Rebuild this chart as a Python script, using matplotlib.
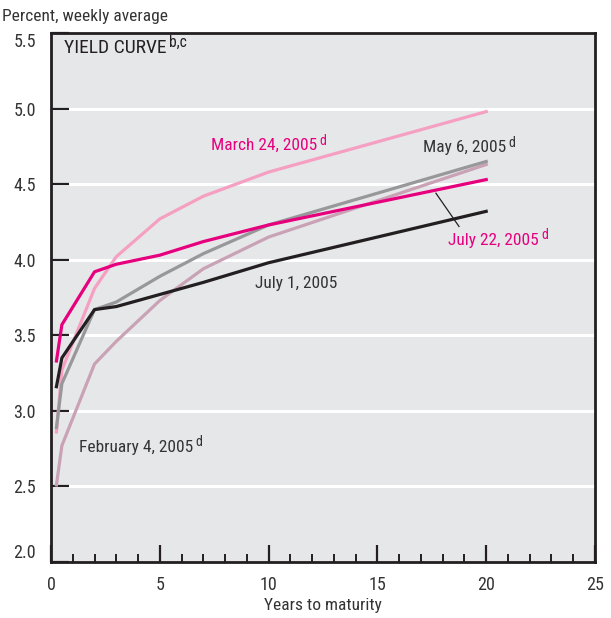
import matplotlib
matplotlib.use('Agg')
import matplotlib.pyplot as plt
from matplotlib.ticker import MultipleLocator

plt.rcParams['font.family'] = ['Roboto Condensed', 'DejaVu Sans']

# years to maturity (3-month, 6-month, 2, 3, 5, 7, 10, 20 years)
maturity = [0.25, 0.5, 2, 3, 5, 7, 10, 20]

feb4 = [2.51, 2.77, 3.31, 3.46, 3.73, 3.94, 4.15, 4.63]
mar24 = [2.86, 3.27, 3.81, 4.02, 4.27, 4.42, 4.58, 4.98]
may6 = [2.89, 3.18, 3.67, 3.72, 3.89, 4.04, 4.23, 4.65]
jul1 = [3.16, 3.35, 3.67, 3.69, 3.77, 3.85, 3.98, 4.32]
jul22 = [3.33, 3.57, 3.92, 3.97, 4.03, 4.12, 4.23, 4.53]

yticks = [2.0, 2.5, 3.0, 3.5, 4.0, 4.5, 5.0, 5.5]

bg = '#e6e7e8'
magenta = '#e6007e'
pink = '#f5a0c2'
gray = '#98989a'
mauve = '#c9a2b6'
black = '#231f20'
txt = '#333333'

fig = plt.figure(figsize=(6.11, 6.18), dpi=100)
ax = fig.add_axes([51/611, 1-562/618, 544/611, 529/618])
ax.set_facecolor(bg)

ax.set_xlim(0, 25)
ax.set_ylim(2.0, 5.5)

for y in yticks[1:-1]:
    ax.axhline(y, color='white', lw=2.2, zorder=1)

ax.plot(maturity, feb4, color=mauve, lw=2.3, zorder=3)
ax.plot(maturity, mar24, color=pink, lw=2.3, zorder=3)
ax.plot(maturity, may6, color=gray, lw=2.3, zorder=4)
ax.plot(maturity, jul22, color=magenta, lw=2.3, zorder=5)
ax.plot(maturity, jul1, color=black, lw=2.3, zorder=6)

for s in ax.spines.values():
    s.set_linewidth(2.0)
    s.set_color(black)

ax.xaxis.set_major_locator(MultipleLocator(5))
ax.xaxis.set_minor_locator(MultipleLocator(1))
ax.tick_params(axis='x', which='major', direction='in', length=12, width=1.6,
               colors=black, labelcolor=txt, labelsize=13, pad=10)
ax.tick_params(axis='x', which='minor', direction='in', length=6, width=1.4, colors=black)
ax.tick_params(axis='y', which='major', direction='in', length=13, width=1.6,
               colors=black, labelcolor=txt, labelsize=13, pad=11)
ax.set_yticks(yticks)
ax.set_yticklabels([f'{v:.1f}' for v in yticks])
ylabels = ax.get_yticklabels()
ylabels[0].set_va('bottom')
ylabels[-1].set_va('top')

ax.set_xlabel('Years to maturity', fontsize=12.5, color=txt, labelpad=3)
fig.text(2/611, 1-17/618, 'Percent, weekly average', fontsize=12.5, color=txt, va='center')


def label(x, y, s, color, sup=None, size=12.5):
    t = ax.text(x, y, s, color=color, fontsize=size, va='center', ha='left')
    if sup:
        ax.annotate(sup, xy=(1, 1), xycoords=t, xytext=(1.5, 3), textcoords='offset points',
                    fontsize=size * 0.8, color=color, va='top', ha='left')
    return t


label(0.6, 5.40, 'YIELD CURVE', black, 'b,c', size=14)
label(7.35, 4.755, 'March 24, 2005', magenta, 'd')
label(17.1, 4.74, 'May 6, 2005', txt, 'd')
label(18.25, 4.13, 'July 22, 2005', magenta, 'd')
label(9.38, 3.845, 'July 1, 2005', txt)
label(1.3, 2.76, 'February 4, 2005', txt, 'd')

# leader line for July 22
ax.plot([17.69, 18.75], [4.44, 4.22], color=black, lw=0.9, zorder=7)

fig.savefig('out.png', dpi=100, facecolor='white')
